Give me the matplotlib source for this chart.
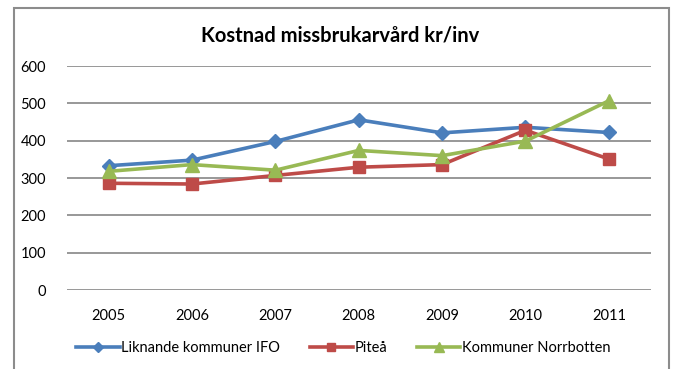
import matplotlib
matplotlib.use('Agg')
import matplotlib.pyplot as plt
from matplotlib.patches import Rectangle

plt.rcParams['font.family'] = ['Lato', 'DejaVu Sans']

years = ['2005', '2006', '2007', '2008', '2009', '2010', '2011']
liknande = [333, 348, 398, 456, 421, 436, 422]
pitea = [286, 284, 307, 329, 336, 428, 351]
norrbotten = [318, 336, 321, 374, 360, 399, 507]
yticks = [0, 100, 200, 300, 400, 500, 600]

fig = plt.figure(figsize=(6.73, 3.69), dpi=100)
ax = fig.add_axes([0.0996, 0.214, 0.867, 0.607])

# chart frame
fig.patches.append(Rectangle((0.021, -0.05), 0.973, 1.028, transform=fig.transFigure,
                             fill=False, edgecolor='#8c8c8c', linewidth=1.5))

x = range(len(years))
ax.plot(x, liknande, color='#4a7ebb', lw=2.6, marker='D', ms=7, label='Liknande kommuner IFO')
ax.plot(x, pitea, color='#be4b48', lw=2.6, marker='s', ms=8.5, label='Piteå')
ax.plot(x, norrbotten, color='#98b954', lw=2.6, marker='^', ms=10, label='Kommuner Norrbotten')

ax.set_xlim(-0.5, len(years) - 0.5)
ax.set_ylim(0, 600)
ax.set_yticks(yticks)
ax.set_xticks(list(x))
ax.set_xticklabels(years)
ax.tick_params(length=0, labelsize=10.5, colors='black')
ax.tick_params(axis='y', pad=15)
ax.tick_params(axis='x', pad=14)
ax.yaxis.grid(True, color='#868686', lw=1.2)
ax.set_axisbelow(True)
for s in ax.spines.values():
    s.set_visible(False)

fig.text(0.505, 0.905, 'Kostnad missbrukarvård kr/inv', ha='center', va='center',
         fontsize=14.5, fontweight='bold')

fig.legend(loc='center', bbox_to_anchor=(0.51, 0.057), ncol=3, frameon=False,
           fontsize=10.5, handlelength=3, handletextpad=0.1, columnspacing=2.0,
           markerscale=0.7)

fig.savefig('out.png', dpi=100)
